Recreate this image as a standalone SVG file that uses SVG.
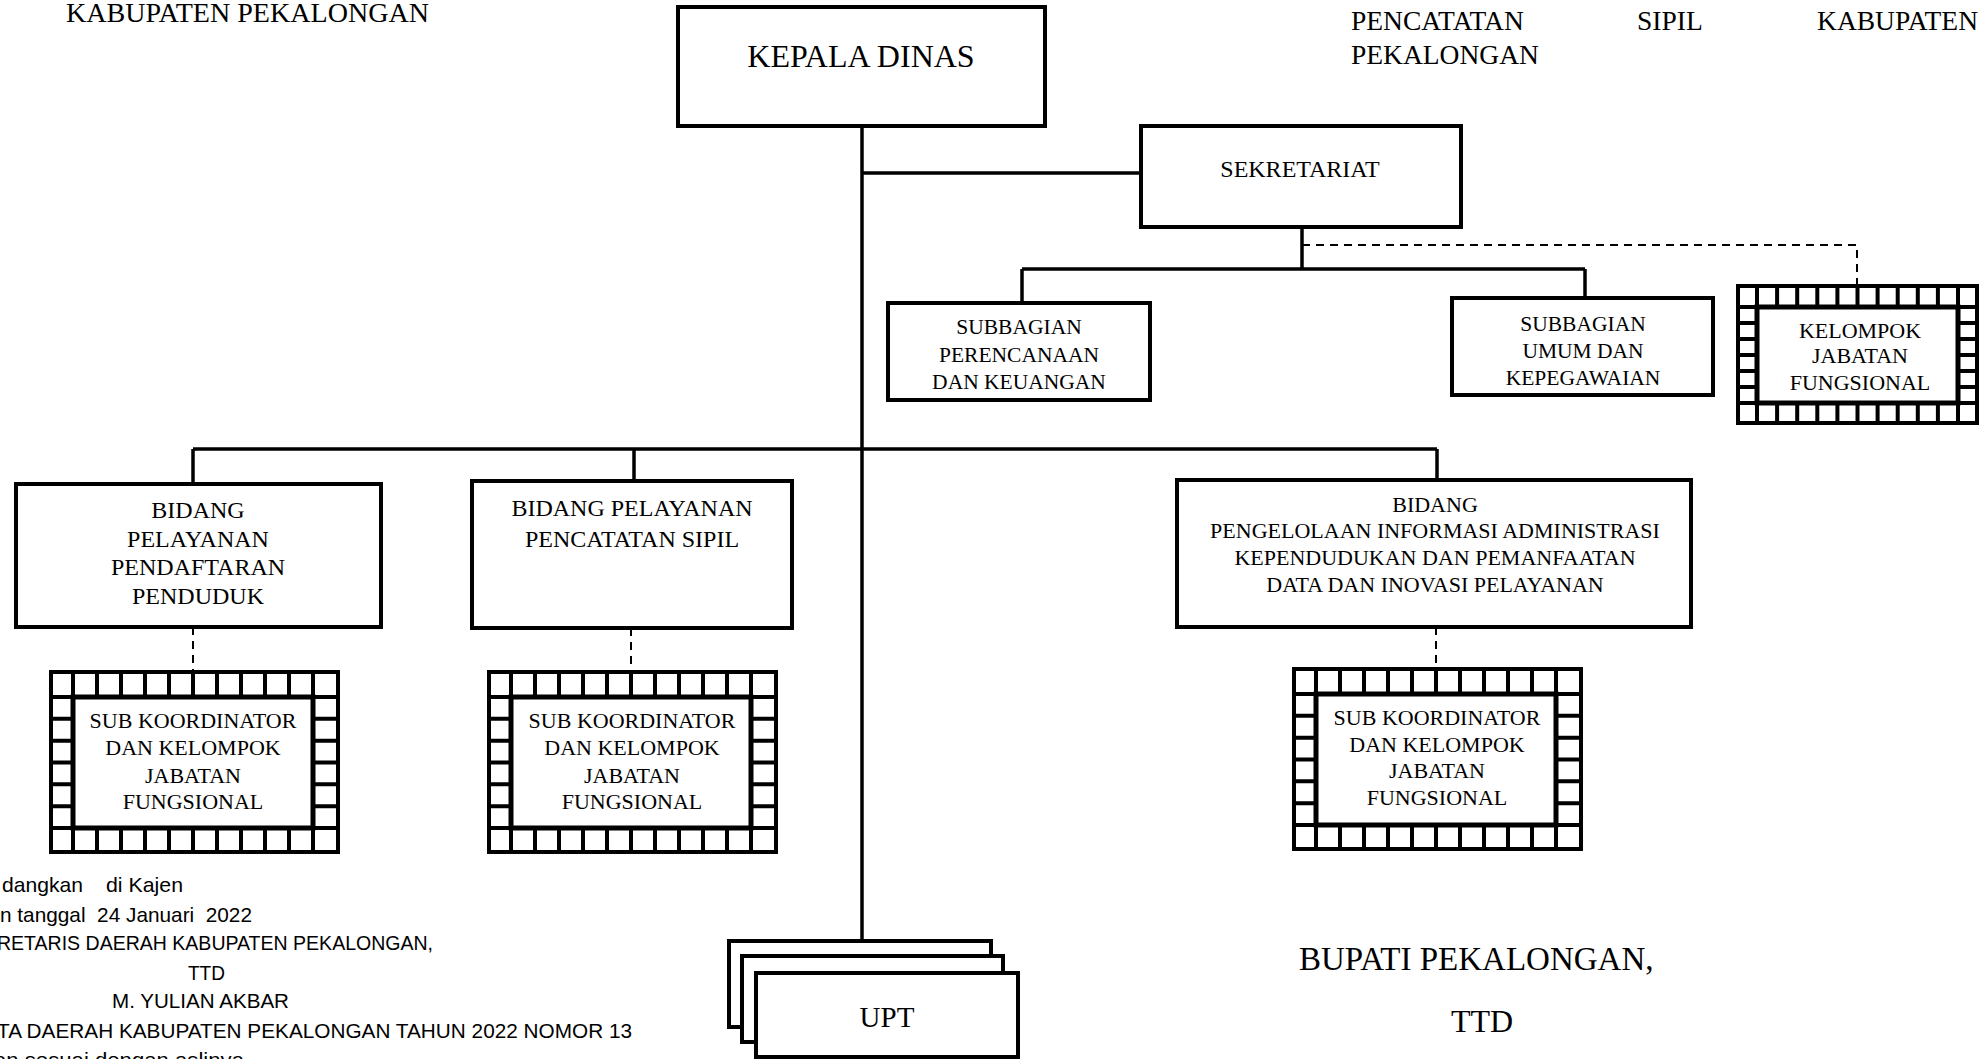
<svg xmlns="http://www.w3.org/2000/svg" width="1979" height="1059" viewBox="0 0 1979 1059">
<style>
.box{fill:#fff;stroke:#000;stroke-width:4}
.ln{fill:none;stroke:#000;stroke-width:3.5}
.dash{fill:none;stroke:#000;stroke-width:2;stroke-dasharray:8 6}
.t{font-family:"Liberation Serif","Times New Roman",serif;fill:#000;text-anchor:middle}
.ts{font-family:"Liberation Serif","Times New Roman",serif;fill:#000}
.s{font-family:"Liberation Sans",Arial,sans-serif;fill:#000;font-size:21px}
.hl{fill:none;stroke:#000;stroke-width:4}
</style>
<defs>
<g id="hatch">
<rect x="0" y="0" width="287" height="180" fill="#fff" stroke="#000" stroke-width="4"/>
<rect x="22" y="25" width="240" height="131" fill="none" stroke="#000" stroke-width="5"/>
<path fill="none" stroke="#000" stroke-width="4" d="M22 0V25M46 0V25M70 0V25M94 0V25M118 0V25M142 0V25M166 0V25M190 0V25M214 0V25M238 0V25M262 0V25M22 156V180M46 156V180M70 156V180M94 156V180M118 156V180M142 156V180M166 156V180M190 156V180M214 156V180M238 156V180M262 156V180M0 25H22M0 46.8H22M0 68.7H22M0 90.5H22M0 112.3H22M0 134.2H22M0 156H22M262 25H287M262 46.8H287M262 68.7H287M262 90.5H287M262 112.3H287M262 134.2H287M262 156H287"/>
</g>
</defs>
<rect x="0" y="0" width="1979" height="1059" fill="#fff"/>

<g id="header-left">
<text class="ts" x="66" y="22" font-size="27.5" textLength="363" lengthAdjust="spacingAndGlyphs">KABUPATEN PEKALONGAN</text>
</g>
<g id="header-right">
<text class="ts" x="1351" y="30" font-size="27.5">PENCATATAN</text>
<text class="ts" x="1637" y="30" font-size="27.5">SIPIL</text>
<text class="ts" x="1978" y="30" font-size="27.5" text-anchor="end">KABUPATEN</text>
<text class="ts" x="1351" y="64" font-size="27.5">PEKALONGAN</text>
</g>

<g id="connectors">
<path class="ln" d="M862 126V941"/>
<path class="ln" d="M862 173H1141"/>
<path class="ln" d="M1302 227V269"/>
<path class="ln" d="M1022 269H1585"/>
<path class="ln" d="M1022 269V303"/>
<path class="ln" d="M1585 269V298"/>
<path class="ln" d="M193 449H1437"/>
<path class="ln" d="M193 449V484"/>
<path class="ln" d="M634 449V481"/>
<path class="ln" d="M1437 449V480"/>
<path class="dash" d="M1302 245H1857V286"/>
<path class="dash" d="M193 627V672"/>
<path class="dash" d="M631 628V672"/>
<path class="dash" d="M1436 627V669"/>
</g>

<g id="kepala-dinas">
<rect class="box" x="678" y="7" width="367" height="119"/>
<text class="t" x="861" y="67" font-size="32">KEPALA DINAS</text>
</g>

<g id="sekretariat">
<rect class="box" x="1141" y="126" width="320" height="101"/>
<text class="t" x="1300" y="177" font-size="24">SEKRETARIAT</text>
</g>

<g id="subbagian-perencanaan">
<rect class="box" x="888" y="303" width="262" height="97"/>
<text class="t" x="1019" font-size="21.5"><tspan x="1019" y="334">SUBBAGIAN</tspan><tspan x="1019" y="362">PERENCANAAN</tspan><tspan x="1019" y="389">DAN KEUANGAN</tspan></text>
</g>

<g id="subbagian-umum">
<rect class="box" x="1452" y="298" width="261" height="97"/>
<text class="t" x="1583" font-size="21.5"><tspan x="1583" y="331">SUBBAGIAN</tspan><tspan x="1583" y="358">UMUM DAN</tspan><tspan x="1583" y="385">KEPEGAWAIAN</tspan></text>
</g>

<g id="kelompok-jabatan-fungsional">
<rect x="1738" y="286" width="239" height="137" fill="#fff" stroke="#000" stroke-width="4"/>
<rect x="1757" y="307" width="201" height="96" fill="none" stroke="#000" stroke-width="5"/>
<path class="hl" d="M1757 286V307M1777.1 286V307M1797.2 286V307M1817.3 286V307M1837.4 286V307M1857.5 286V307M1877.6 286V307M1897.7 286V307M1917.8 286V307M1937.9 286V307M1958 286V307M1757 403V423M1777.1 403V423M1797.2 403V423M1817.3 403V423M1837.4 403V423M1857.5 403V423M1877.6 403V423M1897.7 403V423M1917.8 403V423M1937.9 403V423M1958 403V423M1738 307H1757M1738 323H1757M1738 339H1757M1738 355H1757M1738 371H1757M1738 387H1757M1738 403H1757M1958 307H1977M1958 323H1977M1958 339H1977M1958 355H1977M1958 371H1977M1958 387H1977M1958 403H1977"/>
<text class="t" font-size="22"><tspan x="1860" y="338">KELOMPOK</tspan><tspan x="1860" y="363">JABATAN</tspan><tspan x="1860" y="390">FUNGSIONAL</tspan></text>
</g>

<g id="bidang-pendaftaran">
<rect class="box" x="16" y="484" width="365" height="143"/>
<text class="t" font-size="24"><tspan x="198" y="518">BIDANG</tspan><tspan x="198" y="547">PELAYANAN</tspan><tspan x="198" y="575">PENDAFTARAN</tspan><tspan x="198" y="604">PENDUDUK</tspan></text>
</g>

<g id="bidang-pencatatan">
<rect class="box" x="472" y="481" width="320" height="147"/>
<text class="t" font-size="24"><tspan x="632" y="516">BIDANG PELAYANAN</tspan><tspan x="632" y="547">PENCATATAN SIPIL</tspan></text>
</g>

<g id="bidang-pengelolaan">
<rect class="box" x="1177" y="480" width="514" height="147"/>
<text class="t" font-size="22"><tspan x="1435" y="512">BIDANG</tspan><tspan x="1435" y="538">PENGELOLAAN INFORMASI ADMINISTRASI</tspan><tspan x="1435" y="565">KEPENDUDUKAN DAN PEMANFAATAN</tspan><tspan x="1435" y="592">DATA DAN INOVASI PELAYANAN</tspan></text>
</g>

<g id="subkoordinator-1">
<use href="#hatch" x="51" y="672"/>
<text class="t" font-size="22"><tspan x="193" y="728">SUB KOORDINATOR</tspan><tspan x="193" y="755">DAN KELOMPOK</tspan><tspan x="193" y="783">JABATAN</tspan><tspan x="193" y="809">FUNGSIONAL</tspan></text>
</g>

<g id="subkoordinator-2">
<use href="#hatch" x="489" y="672"/>
<text class="t" font-size="22"><tspan x="632" y="728">SUB KOORDINATOR</tspan><tspan x="632" y="755">DAN KELOMPOK</tspan><tspan x="632" y="783">JABATAN</tspan><tspan x="632" y="809">FUNGSIONAL</tspan></text>
</g>

<g id="subkoordinator-3">
<use href="#hatch" x="1294" y="669"/>
<text class="t" font-size="22"><tspan x="1437" y="725">SUB KOORDINATOR</tspan><tspan x="1437" y="752">DAN KELOMPOK</tspan><tspan x="1437" y="778">JABATAN</tspan><tspan x="1437" y="805">FUNGSIONAL</tspan></text>
</g>

<g id="upt">
<rect class="box" x="729" y="941" width="262" height="86"/>
<rect class="box" x="742" y="956" width="261" height="86"/>
<rect class="box" x="756" y="973" width="262" height="84"/>
<text class="t" x="887" y="1027" font-size="29">UPT</text>
</g>

<g id="pengesahan-kiri">
<text class="s" x="2" y="892" textLength="81" lengthAdjust="spacingAndGlyphs">dangkan</text>
<text class="s" x="106" y="892" textLength="77" lengthAdjust="spacingAndGlyphs">di Kajen</text>
<text class="s" x="0" y="922" xml:space="preserve" textLength="252" lengthAdjust="spacingAndGlyphs">n tanggal  24 Januari  2022</text>
<text class="s" x="-3" y="950" textLength="436" lengthAdjust="spacingAndGlyphs">RETARIS DAERAH KABUPATEN PEKALONGAN,</text>
<text class="s" x="188" y="980" textLength="37" lengthAdjust="spacingAndGlyphs">TTD</text>
<text class="s" x="112" y="1008" textLength="177" lengthAdjust="spacingAndGlyphs">M. YULIAN AKBAR</text>
<text class="s" x="-3" y="1038" textLength="635" lengthAdjust="spacingAndGlyphs">TA DAERAH KABUPATEN PEKALONGAN TAHUN 2022 NOMOR 13</text>
<text class="s" x="-6" y="1067" textLength="250" lengthAdjust="spacingAndGlyphs">an sesuai dengan aslinya</text>
</g>

<g id="pengesahan-kanan">
<text class="ts" x="1299" y="970" font-size="33">BUPATI PEKALONGAN,</text>
<text class="t" x="1482" y="1032" font-size="32">TTD</text>
</g>
</svg>
